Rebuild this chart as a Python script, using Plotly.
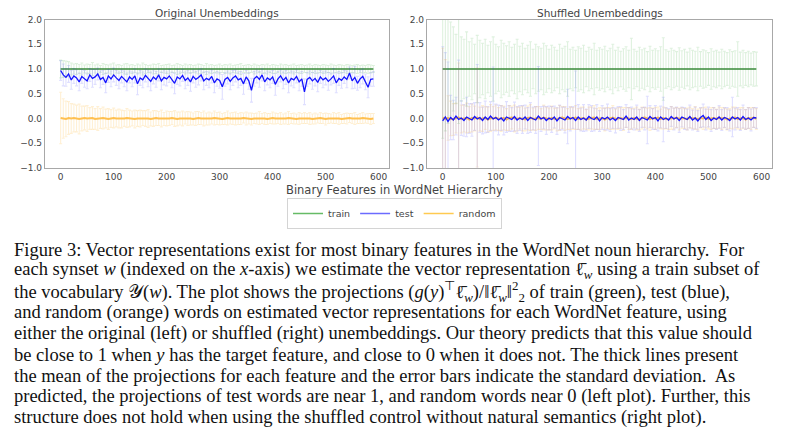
"""
WordNet feature projections, original vs shuffled unembeddings (fig. 3 + caption)
"""

import plotly.graph_objects as go

# feature index on the x-axis (every 5th synset)
FEATURE_X = list(range(0, 595, 5))

# ---- original unembeddings (left) ----
TRAIN_MEAN_ORIG = [
    1.0, 1.0, 1.0, 1.0, 1.0, 1.0, 1.0, 1.0, 1.0, 1.0,
    1.0, 1.0, 1.0, 1.0, 1.0, 1.0, 1.0, 1.0, 1.0, 1.0,
    1.0, 1.0, 1.0, 1.0, 1.0, 1.0, 1.0, 1.0, 1.0, 1.0,
    1.0, 1.0, 1.0, 1.0, 1.0, 1.0, 1.0, 1.0, 1.0, 1.0,
    1.0, 1.0, 1.0, 1.0, 1.0, 1.0, 1.0, 1.0, 1.0, 1.0,
    1.0, 1.0, 1.0, 1.0, 1.0, 1.0, 1.0, 1.0, 1.0, 1.0,
    1.0, 1.0, 1.0, 1.0, 1.0, 1.0, 1.0, 1.0, 1.0, 1.0,
    1.0, 1.0, 1.0, 1.0, 1.0, 1.0, 1.0, 1.0, 1.0, 1.0,
    1.0, 1.0, 1.0, 1.0, 1.0, 1.0, 1.0, 1.0, 1.0, 1.0,
    1.0, 1.0, 1.0, 1.0, 1.0, 1.0, 1.0, 1.0, 1.0, 1.0,
    1.0, 1.0, 1.0, 1.0, 1.0, 1.0, 1.0, 1.0, 1.0, 1.0,
    1.0, 1.0, 1.0, 1.0, 1.0, 1.0, 1.0, 1.0, 1.0,
]
TRAIN_STD_ORIG = [
    0.18, 0.17, 0.16, 0.15, 0.12, 0.10, 0.11, 0.09, 0.12, 0.08,
    0.10, 0.09, 0.13, 0.08, 0.10, 0.07, 0.11, 0.09, 0.08, 0.10,
    0.12, 0.08, 0.09, 0.07, 0.10, 0.11, 0.08, 0.09, 0.07, 0.10,
    0.08, 0.12, 0.09, 0.07, 0.08, 0.10, 0.09, 0.11, 0.07, 0.08,
    0.09, 0.10, 0.07, 0.08, 0.11, 0.09, 0.07, 0.10, 0.08, 0.09,
    0.07, 0.08, 0.10, 0.09, 0.07, 0.11, 0.08, 0.09, 0.07, 0.08,
    0.10, 0.07, 0.09, 0.08, 0.10, 0.07, 0.08, 0.09, 0.11, 0.07,
    0.08, 0.09, 0.07, 0.10, 0.08, 0.07, 0.09, 0.08, 0.10, 0.07,
    0.09, 0.08, 0.07, 0.10, 0.08, 0.09, 0.07, 0.08, 0.10, 0.07,
    0.08, 0.09, 0.07, 0.08, 0.10, 0.07, 0.09, 0.08, 0.07, 0.09,
    0.08, 0.07, 0.10, 0.08, 0.07, 0.09, 0.08, 0.07, 0.09, 0.08,
    0.07, 0.08, 0.09, 0.07, 0.08, 0.07, 0.09, 0.08, 0.07,
]
TEST_MEAN_ORIG = [
    0.97, 0.88, 0.83, 0.90, 0.78, 0.86, 0.82, 0.74, 0.85, 0.80,
    0.76, 0.88, 0.81, 0.84, 0.90, 0.79, 0.83, 0.72, 0.86, 0.80,
    0.88, 0.82, 0.77, 0.85, 0.80, 0.74, 0.84, 0.79, 0.86, 0.70,
    0.82, 0.78, 0.87, 0.81, 0.75, 0.84, 0.79, 0.88, 0.76, 0.83,
    0.80, 0.86, 0.78, 0.71, 0.84, 0.80, 0.87, 0.77, 0.82, 0.74,
    0.85, 0.79, 0.83, 0.88, 0.76, 0.81, 0.78, 0.85, 0.72, 0.80,
    0.77, 0.64, 0.79, 0.83, 0.75, 0.82, 0.86, 0.78, 0.81, 0.70,
    0.84, 0.76, 0.57, 0.80, 0.85, 0.79, 0.88, 0.74, 0.82, 0.78,
    0.84, 0.69, 0.80, 0.86, 0.77, 0.83, 0.72, 0.81, 0.78, 0.85,
    0.74, 0.80, 0.54, 0.79, 0.83, 0.76, 0.81, 0.73, 0.84, 0.78,
    0.82, 0.75, 0.80, 0.86, 0.72, 0.81, 0.77, 0.84, 0.79, 0.92,
    0.76, 0.83, 0.71, 0.80, 0.85, 0.74, 0.63, 0.79, 0.80,
]
TEST_STD_ORIG = [
    0.20, 0.22, 0.18, 0.17, 0.19, 0.15, 0.16, 0.18, 0.14, 0.17,
    0.16, 0.13, 0.18, 0.15, 0.12, 0.17, 0.14, 0.20, 0.13, 0.16,
    0.14, 0.15, 0.17, 0.13, 0.16, 0.18, 0.12, 0.15, 0.14, 0.22,
    0.15, 0.16, 0.13, 0.17, 0.19, 0.14, 0.16, 0.12, 0.18, 0.15,
    0.14, 0.13, 0.16, 0.21, 0.15, 0.14, 0.12, 0.17, 0.15, 0.19,
    0.13, 0.16, 0.15, 0.12, 0.18, 0.14, 0.16, 0.13, 0.20, 0.15,
    0.16, 0.25, 0.14, 0.13, 0.17, 0.15, 0.12, 0.16, 0.14, 0.21,
    0.13, 0.17, 0.24, 0.15, 0.13, 0.16, 0.12, 0.18, 0.14, 0.16,
    0.13, 0.22, 0.15, 0.12, 0.17, 0.14, 0.20, 0.15, 0.16, 0.13,
    0.18, 0.15, 0.26, 0.14, 0.13, 0.17, 0.15, 0.19, 0.13, 0.16,
    0.14, 0.18, 0.12, 0.15, 0.20, 0.14, 0.16, 0.13, 0.17, 0.12,
    0.16, 0.22, 0.14, 0.18, 0.15, 0.16, 0.21, 0.14, 0.15,
]
RANDOM_MEAN_ORIG = [
    0.01, 0.00, -0.01, 0.01, 0.00, 0.01, 0.00, -0.01, 0.00, 0.01,
    0.00, 0.00, 0.01, -0.01, 0.00, 0.00, 0.01, 0.00, -0.01, 0.00,
    0.01, 0.00, 0.00, -0.01, 0.00, 0.01, 0.00, 0.00, -0.01, 0.00,
    0.00, 0.01, 0.00, 0.00, -0.01, 0.00, 0.01, 0.00, 0.00, -0.01,
    0.00, 0.00, 0.01, 0.00, -0.01, 0.00, 0.00, 0.01, 0.00, 0.00,
    -0.01, 0.00, 0.01, 0.00, 0.00, -0.01, 0.00, 0.00, 0.01, 0.00,
    0.00, -0.01, 0.00, 0.01, 0.00, 0.00, 0.00, -0.01, 0.00, 0.01,
    0.00, 0.00, -0.01, 0.00, 0.00, 0.01, 0.00, 0.00, -0.01, 0.00,
    0.01, 0.00, 0.00, 0.00, -0.01, 0.00, 0.01, 0.00, 0.00, -0.01,
    0.00, 0.00, 0.01, 0.00, 0.00, -0.01, 0.00, 0.00, 0.01, 0.00,
    -0.01, 0.00, 0.00, 0.01, 0.00, 0.00, -0.01, 0.00, 0.00, 0.01,
    0.00, 0.00, -0.01, 0.00, 0.01, 0.00, 0.00, -0.01, 0.00,
]
RANDOM_STD_ORIG = [
    0.52, 0.40, 0.36, 0.33, 0.30, 0.28, 0.27, 0.30, 0.25, 0.24,
    0.26, 0.22, 0.23, 0.21, 0.24, 0.20, 0.22, 0.19, 0.21, 0.18,
    0.20, 0.17, 0.19, 0.18, 0.16, 0.19, 0.17, 0.15, 0.18, 0.16,
    0.17, 0.15, 0.16, 0.18, 0.14, 0.16, 0.15, 0.14, 0.17, 0.13,
    0.15, 0.14, 0.13, 0.16, 0.14, 0.13, 0.15, 0.12, 0.14, 0.13,
    0.12, 0.14, 0.13, 0.12, 0.15, 0.12, 0.13, 0.11, 0.14, 0.12,
    0.13, 0.11, 0.12, 0.14, 0.11, 0.12, 0.13, 0.11, 0.12, 0.10,
    0.13, 0.11, 0.12, 0.10, 0.11, 0.13, 0.10, 0.12, 0.11, 0.10,
    0.12, 0.11, 0.10, 0.12, 0.10, 0.11, 0.13, 0.10, 0.11, 0.10,
    0.12, 0.10, 0.11, 0.10, 0.12, 0.10, 0.11, 0.09, 0.11, 0.10,
    0.12, 0.10, 0.09, 0.11, 0.10, 0.12, 0.09, 0.10, 0.11, 0.09,
    0.10, 0.12, 0.09, 0.10, 0.11, 0.09, 0.10, 0.11, 0.10,
]

# ---- shuffled unembeddings (right) ----
TRAIN_MEAN_SHUF = list(TRAIN_MEAN_ORIG)  # same flat 1.0 line in both panels
TRAIN_STD_SHUF = [
    1.40, 1.25, 1.10, 0.95, 0.85, 0.70, 1.10, 0.65, 0.60, 0.75,
    0.55, 0.62, 0.50, 0.68, 0.58, 0.52, 0.60, 0.48, 0.55, 0.65,
    0.50, 0.45, 0.58, 0.52, 0.47, 0.55, 0.44, 0.50, 0.60, 0.46,
    0.52, 0.42, 0.48, 0.55, 0.40, 0.50, 0.45, 0.42, 0.52, 0.47,
    0.40, 0.48, 0.44, 0.38, 0.50, 0.42, 0.46, 0.55, 0.40, 0.44,
    0.38, 0.45, 0.42, 0.48, 0.36, 0.44, 0.40, 0.52, 0.38, 0.43,
    0.40, 0.46, 0.37, 0.42, 0.50, 0.38, 0.44, 0.36, 0.41, 0.45,
    0.38, 0.62, 0.40, 0.36, 0.44, 0.39, 0.42, 0.35, 0.46, 0.38,
    0.41, 0.37, 0.45, 0.63, 0.39, 0.36, 0.42, 0.38, 0.35, 0.43,
    0.37, 0.40, 0.34, 0.42, 0.38, 0.36, 0.44, 0.35, 0.39, 0.37,
    0.33, 0.41, 0.36, 0.38, 0.34, 0.40, 0.36, 0.33, 0.39, 0.35,
    0.37, 0.55, 0.34, 0.38, 0.33, 0.36, 0.32, 0.35, 0.34,
]
TEST_MEAN_SHUF = [
    -0.05, 0.03, -0.06, 0.02, -0.03, 0.05, -0.02, 0.01, -0.04, 0.03,
    0.00, -0.03, 0.04, -0.01, 0.02, -0.04, 0.03, -0.02, 0.05, -0.01,
    0.02, -0.03, 0.01, -0.05, 0.03, 0.00, -0.02, 0.04, -0.03, 0.01,
    -0.02, 0.03, -0.04, 0.02, 0.00, -0.03, 0.05, -0.01, 0.02, -0.04,
    0.01, -0.02, 0.03, -0.05, 0.02, 0.00, -0.03, 0.04, -0.01, 0.02,
    -0.04, 0.03, -0.02, 0.01, -0.03, 0.04, 0.00, -0.02, 0.03, -0.05,
    0.02, -0.01, 0.03, -0.03, 0.01, -0.04, 0.02, 0.00, -0.02, 0.05,
    -0.03, 0.01, -0.02, 0.03, -0.04, 0.02, 0.00, -0.03, 0.04, -0.01,
    0.02, -0.05, 0.03, -0.02, 0.01, -0.03, 0.04, -0.01, 0.02, -0.04,
    0.03, 0.00, -0.02, 0.04, -0.03, 0.01, -0.05, 0.02, 0.06, -0.02,
    0.03, -0.04, 0.01, -0.02, 0.03, -0.03, 0.02, 0.00, -0.04, 0.03,
    -0.01, 0.02, -0.03, 0.04, -0.02, 0.01, -0.03, 0.02, 0.01,
]
TEST_STD_SHUF = [
    1.50, 1.30, 1.20, 0.45, 0.40, 0.38, 1.20, 0.35, 0.32, 0.40,
    0.30, 0.33, 0.28, 1.10, 0.30, 0.27, 0.32, 0.26, 0.29, 1.05,
    0.27, 0.30, 0.25, 0.28, 0.31, 0.26, 0.24, 0.29, 0.27, 0.25,
    0.28, 0.24, 0.26, 0.30, 0.23, 0.27, 1.00, 0.25, 0.23, 0.28,
    0.24, 0.26, 0.22, 0.27, 0.25, 0.23, 0.26, 0.55, 0.24, 0.22,
    1.00, 0.25, 0.23, 0.27, 0.22, 0.24, 0.26, 0.23, 0.25, 0.21,
    0.24, 0.22, 0.26, 0.23, 0.21, 0.25, 0.22, 0.24, 0.20, 0.23,
    0.25, 0.22, 0.21, 0.24, 0.22, 0.20, 0.23, 0.48, 0.22, 0.21,
    0.24, 0.20, 0.22, 0.45, 0.21, 0.23, 0.20, 0.22, 0.21, 0.24,
    0.20, 0.22, 0.21, 0.23, 0.20, 0.22, 0.21, 0.20, 0.23, 0.21,
    0.20, 0.22, 0.21, 0.20, 0.23, 0.21, 0.20, 0.22, 0.21, 0.40,
    0.22, 0.20, 0.21, 0.23, 0.20, 0.21, 0.22, 0.20, 0.21,
]
RANDOM_MEAN_SHUF = [
    0.02, -0.01, 0.01, 0.00, -0.02, 0.01, 0.02, -0.01, 0.00, 0.01,
    -0.02, 0.01, 0.00, 0.02, -0.01, 0.00, 0.01, -0.02, 0.01, 0.00,
    0.02, -0.01, 0.00, 0.01, -0.02, 0.01, 0.02, 0.00, -0.01, 0.01,
    0.00, -0.02, 0.01, 0.02, -0.01, 0.00, 0.01, -0.01, 0.02, 0.00,
    -0.01, 0.01, 0.00, -0.02, 0.01, 0.02, 0.00, -0.01, 0.01, 0.00,
    0.02, -0.01, 0.00, 0.01, -0.02, 0.00, 0.01, 0.02, -0.01, 0.00,
    0.01, -0.02, 0.01, 0.00, 0.02, -0.01, 0.00, 0.01, -0.01, 0.02,
    0.00, -0.01, 0.01, 0.00, -0.02, 0.01, 0.02, 0.00, -0.01, 0.01,
    0.00, 0.02, -0.01, 0.01, 0.00, -0.02, 0.01, 0.00, 0.02, -0.01,
    0.01, 0.00, -0.01, 0.02, 0.00, 0.01, -0.02, 0.01, 0.00, 0.02,
    -0.01, 0.00, 0.01, -0.01, 0.02, 0.00, 0.01, -0.02, 0.00, 0.01,
    0.02, -0.01, 0.00, 0.01, -0.02, 0.01, 0.00, 0.02, -0.01,
]
RANDOM_STD_SHUF = [
    1.40, 1.20, 0.45, 0.35, 0.32, 0.30, 1.10, 0.28, 0.27, 0.30,
    0.26, 0.28, 0.25, 1.00, 0.24, 0.26, 0.23, 0.25, 0.27, 0.24,
    0.25, 0.23, 0.26, 0.24, 0.22, 0.25, 0.23, 0.27, 0.24, 0.22,
    0.25, 0.23, 0.24, 0.26, 0.22, 0.24, 0.23, 0.21, 0.25, 0.23,
    0.22, 0.24, 0.21, 0.23, 0.25, 0.22, 0.24, 0.21, 0.23, 0.22,
    0.24, 0.21, 0.23, 0.22, 0.20, 0.23, 0.22, 0.24, 0.21, 0.22,
    0.20, 0.23, 0.21, 0.22, 0.24, 0.20, 0.22, 0.21, 0.23, 0.20,
    0.22, 0.21, 0.20, 0.23, 0.21, 0.22, 0.20, 0.21, 0.23, 0.20,
    0.22, 0.21, 0.20, 0.22, 0.21, 0.20, 0.23, 0.21, 0.20, 0.22,
    0.21, 0.20, 0.22, 0.21, 0.20, 0.23, 0.21, 0.20, 0.22, 0.21,
    0.20, 0.22, 0.21, 0.20, 0.21, 0.22, 0.20, 0.21, 0.20, 0.22,
    0.21, 0.20, 0.22, 0.21, 0.20, 0.21, 0.22, 0.20, 0.21,
]

Y_TICKS = [-1.0, -0.5, 0.0, 0.5, 1.0, 1.5, 2.0]
Y_TICK_TEXT = ["\u22121.0", "\u22120.5", "0.0", "0.5", "1.0", "1.5", "2.0"]
X_TICKS = [0, 100, 200, 300, 400, 500, 600]

PANEL_TITLES = ["Original Unembeddings", "Shuffled Unembeddings"]
X_LABEL = "Binary Features in WordNet Hierarchy"
LEGEND_NAMES = ["train", "test", "random"]

CAPTION_LINES = [
    "Figure 3: Vector representations exist for most binary features in the WordNet noun hierarchy.  For",
    "each synset <i>w</i> (indexed on the <i>x</i>-axis) we estimate the vector representation "
    "\u2113\u0304<sub><i>w</i></sub> using a train subset of",
    "the vocabulary \U0001D4B4(<i>w</i>). The plot shows the projections (<i>g</i>(<i>y</i>)"
    "<sup>\u22a4</sup>\u2113\u0304<sub><i>w</i></sub>)/\u2016\u2113\u0304<sub><i>w</i></sub>\u2016"
    "<sup>2</sup><sub>2</sub> of train (green), test (blue),",
    "and random (orange) words on estimated vector representations for each WordNet feature, using",
    "either the original (left) or shuffled (right) unembeddings. Our theory predicts that this value should",
    "be close to 1 when <i>y</i> has the target feature, and close to 0 when it does not. The thick lines present",
    "the mean of the projections for each feature and the error bars indicate the standard deviation.  As",
    "predicted, the projections of test words are near 1, and random words near 0 (left plot). Further, this",
    "structure does not hold when using the shuffled control without natural semantics (right plot).",
]

W, H = 791, 437
TICK_FONT = {"family": "DejaVu Sans", "size": 9, "color": "#444444"}
pltly_cfg = {"displayModeBar": False, "showTips": False}

# line colour, line width, error bar colour, legend swatch colour
STYLE = {
    "train": ("#3a8a3a", 1.5, "rgba(0,150,0,0.13)", "#66bb66"),
    "test": ("#1414ff", 1.3, "rgba(40,40,255,0.15)", "#6b6bff"),
    "random": ("#ffc050", 2.0, "rgba(255,165,0,0.17)", "#ffca50"),
}

for arr in [TRAIN_STD_ORIG, TEST_MEAN_ORIG, TEST_STD_ORIG, RANDOM_MEAN_ORIG, RANDOM_STD_ORIG,
            TRAIN_STD_SHUF, TEST_MEAN_SHUF, TEST_STD_SHUF, RANDOM_MEAN_SHUF, RANDOM_STD_SHUF]:
    assert len(arr) == len(FEATURE_X), len(arr)


def px_x(p):
    return p / W


def px_y(p):
    return 1 - p / H


def err_trace(name, ys, errs, xa, ya):
    color, width, ecolor, _ = STYLE[name]
    return go.Scatter(x=FEATURE_X, y=ys, mode="lines", name=name,
                      line={"color": color, "width": width},
                      error_y={"type": "data", "array": errs, "visible": True,
                               "color": ecolor, "thickness": 1.1, "width": 1.5},
                      xaxis=xa, yaxis=ya, showlegend=False, hoverinfo="skip")


def axis_style(domain, anchor, is_x):
    ax = {"domain": domain, "anchor": anchor, "showline": True, "mirror": True,
          "linecolor": "#a8a8a8", "linewidth": 1.2, "showgrid": False, "zeroline": False,
          "ticks": "", "tickfont": TICK_FONT, "automargin": False}
    if is_x:
        ax.update(range=[-29.5, 619.5], tickvals=X_TICKS)
    else:
        ax.update(range=[-1.0, 2.0], tickvals=Y_TICKS, ticktext=Y_TICK_TEXT)
    return ax


fig = go.Figure()
panels = [
    ("x", "y", TRAIN_MEAN_ORIG, TRAIN_STD_ORIG, TEST_MEAN_ORIG, TEST_STD_ORIG,
     RANDOM_MEAN_ORIG, RANDOM_STD_ORIG),
    ("x2", "y2", TRAIN_MEAN_SHUF, TRAIN_STD_SHUF, TEST_MEAN_SHUF, TEST_STD_SHUF,
     RANDOM_MEAN_SHUF, RANDOM_STD_SHUF),
]
for xa, ya, trm, trs, tem, tes, rdm, rds in panels:
    fig.add_trace(err_trace("train", trm, trs, xa, ya))
    fig.add_trace(err_trace("random", rdm, rds, xa, ya))
    fig.add_trace(err_trace("test", tem, tes, xa, ya))

# legend swatches are lighter than the plotted lines, like the original
for name in LEGEND_NAMES:
    fig.add_trace(go.Scatter(x=[None], y=[None], mode="lines", name=name,
                             line={"color": STYLE[name][3], "width": 1.5}, showlegend=True))

ydom = [px_y(168), px_y(19.5)]
fig.update_layout(
    width=W, height=H, margin={"l": 0, "r": 0, "t": 0, "b": 0, "autoexpand": False},
    paper_bgcolor="white", plot_bgcolor="white",
    font={"family": "DejaVu Sans", "color": "#444444"},
    xaxis=axis_style([px_x(45), px_x(389)], "y", True),
    yaxis=axis_style(ydom, "x", False),
    xaxis2=axis_style([px_x(427), px_x(772)], "y2", True),
    yaxis2=axis_style(ydom, "x2", False),
    legend={"orientation": "h", "x": px_x(394.5), "xanchor": "center",
            "y": px_y(198), "yanchor": "top",
            "font": {"family": "DejaVu Sans", "size": 9.5, "color": "#444444"},
            "bordercolor": "#d4d4d4", "borderwidth": 1, "bgcolor": "white",
            "itemwidth": 30, "tracegroupgap": 0},
    showlegend=True,
)

annots = []
for t, cx in zip(PANEL_TITLES, [217, 599.5]):
    annots.append(dict(text=t, x=px_x(cx), y=px_y(13), xref="paper", yref="paper",
                       xanchor="center", yanchor="middle", showarrow=False,
                       font={"family": "DejaVu Sans", "size": 10.5, "color": "#444444"}))
annots.append(dict(text=X_LABEL, x=px_x(394.5), y=px_y(190), xref="paper", yref="paper",
                   xanchor="center", yanchor="middle", showarrow=False,
                   font={"family": "DejaVu Sans", "size": 11.5, "color": "#444444"}))
for k, line in enumerate(CAPTION_LINES):
    annots.append(dict(text=line, x=px_x(12), y=px_y(249.5 + 21.04 * k), xref="paper",
                       yref="paper", xanchor="left", yanchor="middle", showarrow=False,
                       font={"family": "Liberation Serif", "size": 18.5, "color": "#111111"}))
fig.update_layout(annotations=annots)

# the page body has a default 8px margin; drop it so the figure sits at 0,0
fig.write_html("out.html", config=pltly_cfg,
               post_script="document.body.style.margin = '0';")
